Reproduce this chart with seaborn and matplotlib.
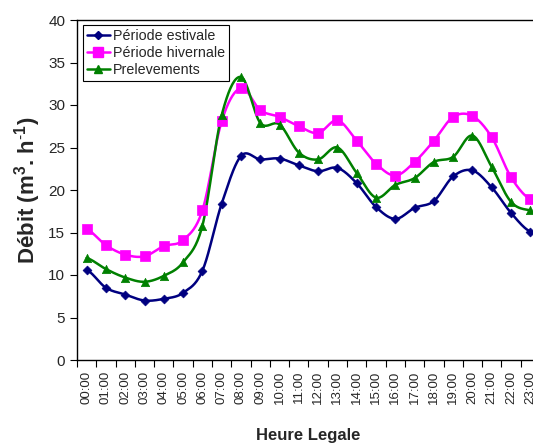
import numpy as np
import pandas as pd
import matplotlib
matplotlib.use("Agg")
import matplotlib.pyplot as plt
import seaborn as sns

hours = [f"{h:02d}:00" for h in range(24)]

estivale = [10.6, 8.5, 7.7, 7.0, 7.2, 7.9, 10.5, 18.4, 24.0, 23.6, 23.7, 22.9,
            22.2, 22.6, 20.8, 18.0, 16.6, 17.9, 18.7, 21.6, 22.3, 20.3, 17.3, 15.1]
hivernale = [15.4, 13.5, 12.4, 12.2, 13.4, 14.1, 17.6, 28.1, 32.0, 29.4, 28.6, 27.5,
             26.7, 28.2, 25.8, 23.1, 21.7, 23.3, 25.8, 28.6, 28.7, 26.2, 21.5, 18.9]
prelevements = [12.0, 10.7, 9.7, 9.2, 9.9, 11.5, 15.8, 28.8, 33.3, 27.9, 27.7, 24.4,
                23.6, 25.0, 22.0, 19.1, 20.6, 21.4, 23.3, 23.9, 26.4, 22.7, 18.6, 17.6]

series = [
    ("Période estivale", estivale, "#000080", "D", 4.5),
    ("Période hivernale", hivernale, "#FF00FF", "s", 7),
    ("Prelevements", prelevements, "#008000", "^", 6),
]

sns.set_theme(style="white")
plt.rcParams["font.family"] = ["Liberation Sans", "DejaVu Sans"]
plt.rcParams["mathtext.fontset"] = "custom"
plt.rcParams["mathtext.rm"] = "Liberation Sans"
plt.rcParams["mathtext.bf"] = "Liberation Sans:bold"


def smooth(y, n=20):
    """Catmull-Rom smoothing through the points (like a smoothed line chart)."""
    y = np.asarray(y, float)
    x = np.arange(len(y), dtype=float)
    p = np.concatenate([[y[0]], y, [y[-1]]])
    xs, ys = [], []
    for i in range(len(y) - 1):
        p0, p1, p2, p3 = p[i], p[i + 1], p[i + 2], p[i + 3]
        t = np.linspace(0, 1, n, endpoint=False)
        c1 = p1 + (p2 - p0) / 6
        c2 = p2 - (p3 - p1) / 6
        yy = ((1 - t) ** 3 * p1 + 3 * (1 - t) ** 2 * t * c1
              + 3 * (1 - t) * t ** 2 * c2 + t ** 3 * p2)
        xs.append(x[i] + t)
        ys.append(yy)
    xs.append([x[-1]])
    ys.append([y[-1]])
    return np.concatenate(xs), np.concatenate(ys)


fig = plt.figure(figsize=(5.33, 4.45), dpi=100)
ax = fig.add_axes([77 / 533, 85 / 445, 463 / 533, 340 / 445])

handles = []
for name, vals, color, marker, ms in series:
    xs, ys = smooth(vals)
    sns.lineplot(x=xs, y=ys, ax=ax, color=color, linewidth=1.8, legend=False)
    sns.scatterplot(x=np.arange(len(vals)), y=vals, ax=ax, color=color,
                    marker=marker, s=ms ** 2, edgecolor=color, linewidth=0.5,
                    legend=False, zorder=3)
    handles.append(plt.Line2D([], [], color=color, marker=marker, markersize=ms,
                              linewidth=1.8, label=name))

ax.set_xlim(-0.5, 23.5)
ax.set_ylim(0, 40)
ax.set_yticks(np.arange(0, 41, 5))
ax.set_xticks(np.arange(24))
ax.set_xticklabels(hours, rotation=90, fontsize=9.5)
ax.set_xticks(np.arange(-0.5, 24, 1), minor=True)
ax.tick_params(axis="x", which="major", length=0, pad=8)
ax.tick_params(axis="x", which="minor", length=5, width=0.8, color="black",
               direction="out", bottom=True)
ax.tick_params(axis="y", length=5, width=0.8, color="black", direction="out",
               left=True, labelsize=11)
for s in ax.spines.values():
    s.set_color("black")
    s.set_linewidth(1.0)

ax.set_xlabel("Heure Legale", fontsize=12, fontweight="bold", labelpad=17)
ax.set_ylabel(r"Débit (m$^{\mathbf{3}}$. h$^{\text{-}\mathbf{1}}$)", fontsize=16,
              fontweight="bold", labelpad=4)

leg = ax.legend(handles=handles, loc="upper left", bbox_to_anchor=(0.012, 0.985),
                fontsize=10.3, frameon=True, fancybox=False, framealpha=1,
                borderpad=0.3, labelspacing=0.2, handlelength=1.6,
                handletextpad=0.2, borderaxespad=0)
leg.get_frame().set_edgecolor("black")
leg.get_frame().set_linewidth(0.8)

fig.savefig("out.png", dpi=100)
